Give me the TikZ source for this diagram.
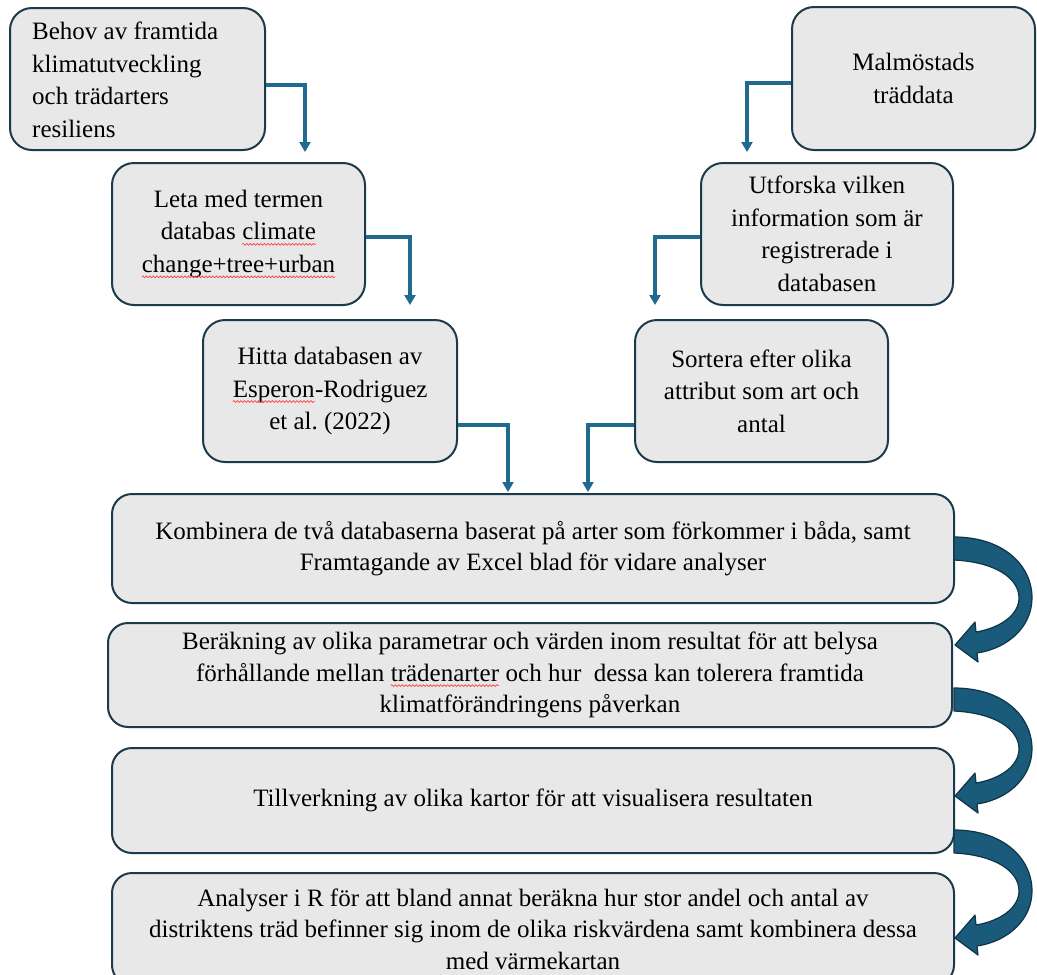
\documentclass[tikz,border=0pt]{standalone}
\usepackage{fontspec}
\setmainfont{Liberation Serif}
\usetikzlibrary{arrows.meta,decorations.pathmorphing}
\definecolor{boxfill}{HTML}{E8E8E8}
\definecolor{boxline}{HTML}{1B3A4B}
\definecolor{conn}{HTML}{1F6A8E}
\definecolor{bendfill}{HTML}{1A5A7A}
\definecolor{bendline}{HTML}{0F3547}
\tikzset{plainword/.style={inner sep=0pt, outer sep=0pt, minimum width=0pt, minimum height=0pt,
  draw=none, fill=none, sharp corners, align=left, text width=},
  wavyline/.style={draw=red!75, fill=none, sharp corners, line width=0.7pt, decorate,
  decoration={snake, amplitude=0.9pt, segment length=3.5pt}}}
\newcommand\redwave[1]{\tikz[baseline=(w.base)]{\node[plainword] (w) {#1};
  \path[wavyline] ([yshift=-4.5pt]w.base west) -- ([yshift=-4.5pt]w.base east);}}
\newcommand\bendarrow[1]{%
  \draw[bendstyle, shift={(0,#1)}]
    (954,537) .. controls (1003,537) and (1032,565) .. (1032,598)
    .. controls (1032,625) and (1010,648) .. (977,653)
    -- (978,662) -- (955,645) -- (975,622) -- (976,632)
    .. controls (1000,628) and (1019,615) .. (1019,598)
    .. controls (1019,578) and (995,562) .. (954,560) -- cycle;}
\begin{document}
\begin{tikzpicture}[x=1pt,y=-1pt,
  box/.style={draw=boxline, line width=2pt, fill=boxfill, rounded corners=22pt,
    align=center, inner sep=0pt, font=\fontsize{25}{32.5}\selectfont},
  wbox/.style={box, rounded corners=20pt, font=\fontsize{25}{31.5}\selectfont},
  boxtext/.style={inner sep=0pt, align=left, font=\fontsize{25}{32.5}\selectfont},
  connector/.style={draw=conn, line width=3.2pt, -{Triangle[width=11pt,length=10pt]}},
  bendstyle/.style={fill=bendfill, draw=bendline, line width=1.2pt, line join=round}]
\useasboundingbox (0,0) rectangle (1037,975);
% left column
\node[box, minimum width=255pt, minimum height=142pt] (L1) at (137.5,79) {};
\node[boxtext, anchor=west] (L1t) at (32,80)
  {Behov av framtida\\klimatutveckling\\och trädarters\\resiliens};
\node[box, minimum width=253pt, minimum height=142pt] (L2) at (238.5,234)
  {Leta med termen\\databas \redwave{climate}\\\redwave{change+tree+urban}};
\node[box, minimum width=254pt, minimum height=142pt] (L3) at (330,391)
  {Hitta databasen av\\\redwave{Esperon}-Rodriguez\\et al.\ (2022)};
% right column
\node[box, minimum width=243pt, minimum height=143pt] (R1) at (913.5,78.5)
  {Malmöstads\\träddata};
\node[box, minimum width=252pt, minimum height=142pt] (R2) at (827,234)
  {Utforska vilken\\information som är\\registrerade i\\databasen};
\node[box, minimum width=253pt, minimum height=142pt] (R3) at (761.5,391)
  {Sortera efter olika\\attribut som art och\\antal};
% bottom boxes
\node[wbox, minimum width=842pt, minimum height=109pt] (B1) at (533,548.5)
  {Kombinera de två databaserna baserat på arter som förkommer i båda, samt\\Framtagande av Excel blad för vidare analyser};
\node[wbox, minimum width=844pt, minimum height=104pt] (B2) at (530,675)
  {Beräkning av olika parametrar och värden inom resultat för att belysa\\förhållande mellan \redwave{trädenarter} och hur~ dessa kan tolerera framtida\\klimatförändringens påverkan};
\node[wbox, minimum width=842pt, minimum height=105pt] (B3) at (533,800.5)
  {Tillverkning av olika kartor för att visualisera resultaten};
\node[wbox, minimum width=842pt, minimum height=112pt] (B4) at (533,929)
  {Analyser i R för att bland annat beräkna hur stor andel och antal av\\distriktens träd befinner sig inom de olika riskvärdena samt kombinera dessa\\med värmekartan};
% elbow connector ends
\coordinate (e1) at (305,152);
\coordinate (e2) at (410,305);
\coordinate (e3) at (508,492);
\coordinate (f1) at (747,152);
\coordinate (f2) at (655,305);
\coordinate (f3) at (588,492);
\draw[connector] ([yshift=-6pt]L1.east) -| (e1);
\draw[connector] ([yshift=-3pt]L2.east) -| (e2);
\draw[connector] ([yshift=-34pt]L3.east) -| (e3);
\draw[connector] ([yshift=-4.5pt]R1.west) -| (f1);
\draw[connector] ([yshift=-3pt]R2.west) -| (f2);
\draw[connector] ([yshift=-34pt]R3.west) -| (f3);
% curved block arrows
\bendarrow{0}
\bendarrow{151}
\bendarrow{293}
\end{tikzpicture}
\end{document}
